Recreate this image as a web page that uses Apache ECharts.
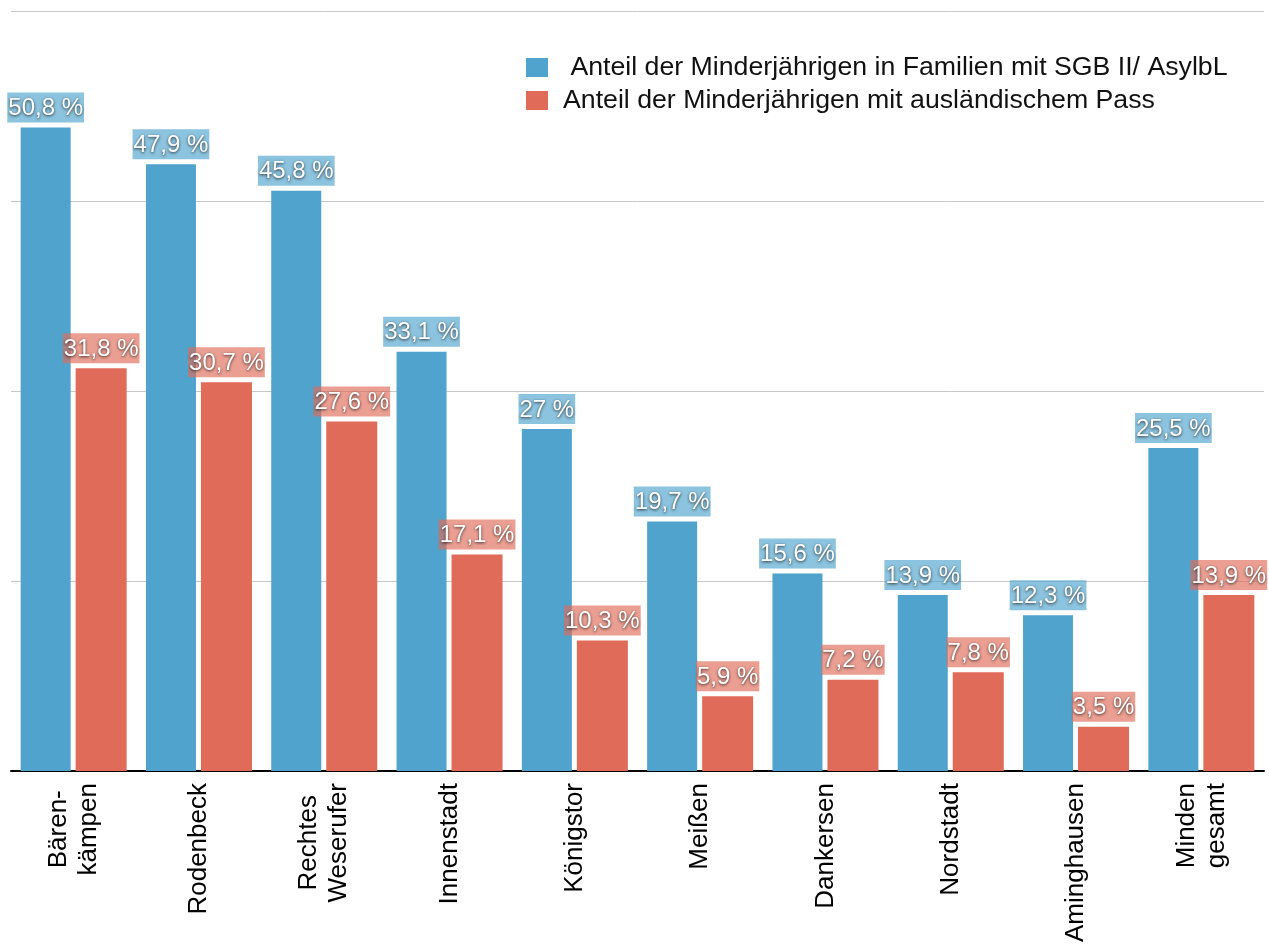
<!DOCTYPE html>
<html>
<head>
<meta charset="utf-8">
<script src="https://cdn.jsdelivr.net/npm/echarts@6/dist/echarts.min.js"></script>
<style>html,body{margin:0;padding:0;background:#fff}#c{width:1269px;height:945px}</style>
</head>
<body>
<div id="c"></div>
<script>
const categories = ['Bären-\nkämpen', 'Rodenbeck', 'Rechtes\nWeserufer', 'Innenstadt', 'Königstor', 'Meißen', 'Dankersen', 'Nordstadt', 'Aminghausen', 'Minden\ngesamt'];
const seriesNames = ['Anteil der Minderjährigen in Familien mit SGB II/ AsylbL', 'Anteil der Minderjährigen mit ausländischem Pass'];
const sgbValues = [50.8, 47.9, 45.8, 33.1, 27, 19.7, 15.6, 13.9, 12.3, 25.5];
const passValues = [31.8, 30.7, 27.6, 17.1, 10.3, 5.9, 7.2, 7.8, 3.5, 13.9];

const FONT = '"Liberation Sans", Arial, Helvetica, sans-serif';
function mkLabel(bg) {
  return {
    show: true, position: 'top', distance: 5,
    formatter: p => String(p.value).replace('.', ',') + ' %',
    color: '#fff', fontFamily: FONT, fontSize: 24, lineHeight: 26,
    backgroundColor: bg, padding: [3, 1, 1, 1],
    textShadowColor: 'rgba(0,0,0,0.75)', textShadowBlur: 3, textShadowOffsetY: 1
  };
}
const chart = echarts.init(document.getElementById('c'), null, {renderer: 'canvas'});
chart.setOption({
  animation: false,
  backgroundColor: '#fff',
  legend: {
    orient: 'vertical', left: 526, top: 54, padding: 0,
    itemWidth: 22, itemHeight: 19, itemGap: 6, itemStyle: {borderWidth: 0},
    icon: 'rect',
    formatter: n => n === seriesNames[0] ? ' ' + n : n,
    textStyle: {fontFamily: FONT, fontSize: 26.7, color: '#111', padding: [0, 0, 0, 10]},
    data: seriesNames
  },
  grid: {left: 11, right: 5, top: 11, bottom: 174, containLabel: false},
  xAxis: {
    type: 'category', data: categories,
    axisLine: {show: true, lineStyle: {color: '#000', width: 2}},
    axisTick: {show: false},
    axisLabel: {
      rotate: 90, margin: 12, interval: 0,
      color: '#000', fontFamily: FONT, fontSize: 26, lineHeight: 30,
      formatter: v => v.split('\n').map(s => '{a|' + s + '}').join('\n'),
      rich: {a: {align: 'center', fontFamily: FONT, fontSize: 26, lineHeight: 30, color: '#000'}}
    }
  },
  yAxis: {
    type: 'value', min: 0, max: 60, interval: 15,
    axisLabel: {show: false}, axisLine: {show: false}, axisTick: {show: false},
    splitLine: {lineStyle: {color: '#c8c8c8', width: 1}}
  },
  series: [
    {name: seriesNames[0], type: 'bar', data: sgbValues, barWidth: 50, barGap: '10%',
     itemStyle: {color: '#4fa3cc'}, label: mkLabel('rgba(79,163,204,0.65)'), z: 2},
    {name: seriesNames[1], type: 'bar', data: passValues, barWidth: 51,
     itemStyle: {color: '#e06b58'}, label: mkLabel('rgba(224,107,88,0.65)'), z: 2}
  ]
});
</script>
</body>
</html>
